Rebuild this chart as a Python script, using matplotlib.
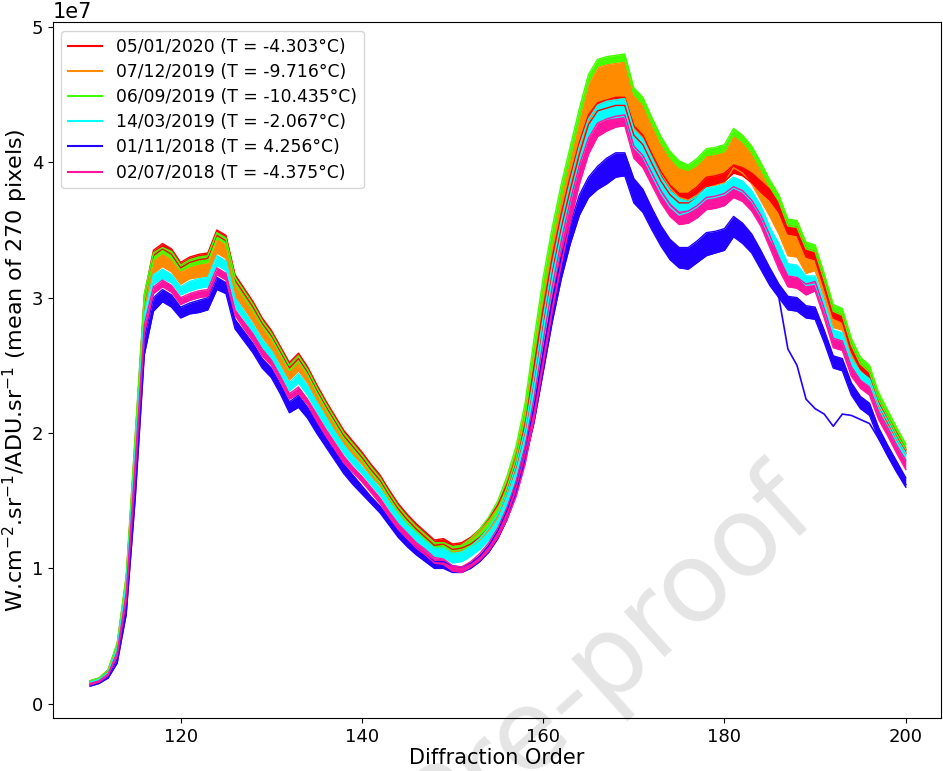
import numpy as np
import matplotlib.pyplot as plt
from matplotlib.lines import Line2D

# diffraction orders on the x axis
orders = np.arange(110, 201)

# legend labels (date, temperature)
labels = ['05/01/2020 (T = -4.303°C)', '07/12/2019 (T = -9.716°C)',
          '06/09/2019 (T = -10.435°C)', '14/03/2019 (T = -2.067°C)',
          '01/11/2018 (T = 4.256°C)', '02/07/2018 (T = -4.375°C)']
colors = ['#ff0000', '#ff8c00', '#44ff00', '#00ffff', '#2200ff', '#ff14a0']

# upper / lower edge of each bundle of curves (units of 1e7)
red_hi = [0.17, 0.19, 0.25, 0.44, 0.93, 1.97,
          3.02, 3.35, 3.40, 3.36, 3.26, 3.30, 3.32, 3.33, 3.50, 3.46,
          3.17, 3.07, 2.97, 2.85, 2.76, 2.64, 2.52, 2.59, 2.49, 2.36,
          2.24, 2.13, 2.02, 1.94, 1.86, 1.77, 1.69, 1.58, 1.48, 1.40,
          1.33, 1.27, 1.21, 1.22, 1.18, 1.19, 1.23, 1.29, 1.37, 1.47,
          1.62, 1.82, 2.10, 2.50, 2.92, 3.30, 3.62, 3.90, 4.15, 4.35,
          4.44, 4.46, 4.48, 4.48, 4.27, 4.20, 4.06, 3.93, 3.83, 3.77,
          3.77, 3.82, 3.89, 3.90, 3.92, 3.98, 3.96, 3.92, 3.86, 3.80,
          3.70, 3.53, 3.52, 3.36, 3.34, 3.13, 2.90, 2.87, 2.65, 2.51,
          2.45, 2.25, 2.12, 2.00, 1.88]
red_lo = [0.16, 0.18, 0.23, 0.41, 0.88, 1.90,
          2.97, 3.31, 3.36, 3.32, 3.22, 3.26, 3.28, 3.29, 3.46, 3.42,
          3.13, 3.03, 2.93, 2.81, 2.72, 2.60, 2.48, 2.55, 2.45, 2.32,
          2.20, 2.09, 1.98, 1.90, 1.82, 1.73, 1.65, 1.54, 1.44, 1.36,
          1.29, 1.23, 1.17, 1.18, 1.14, 1.15, 1.18, 1.23, 1.30, 1.40,
          1.56, 1.75, 2.02, 2.40, 2.82, 3.20, 3.52, 3.80, 4.06, 4.28,
          4.38, 4.40, 4.42, 4.42, 4.20, 4.13, 3.99, 3.86, 3.76, 3.70,
          3.70, 3.75, 3.82, 3.84, 3.86, 3.92, 3.90, 3.85, 3.78, 3.72,
          3.63, 3.47, 3.46, 3.30, 3.28, 3.07, 2.85, 2.82, 2.60, 2.47,
          2.41, 2.21, 2.08, 1.96, 1.85]
orange_hi = [0.16, 0.18, 0.24, 0.43, 0.92, 1.94,
             2.99, 3.28, 3.33, 3.29, 3.19, 3.23, 3.25, 3.26, 3.43, 3.39,
             3.11, 3.01, 2.91, 2.79, 2.70, 2.59, 2.47, 2.54, 2.44, 2.31,
             2.20, 2.09, 1.98, 1.90, 1.82, 1.73, 1.66, 1.55, 1.45, 1.37,
             1.30, 1.24, 1.19, 1.19, 1.16, 1.17, 1.21, 1.27, 1.35, 1.46,
             1.64, 1.85, 2.15, 2.60, 3.05, 3.43, 3.76, 4.04, 4.32, 4.58,
             4.70, 4.72, 4.73, 4.74, 4.50, 4.43, 4.28, 4.14, 4.03, 3.96,
             3.94, 3.98, 4.05, 4.06, 4.08, 4.20, 4.15, 4.07, 3.95, 3.82,
             3.71, 3.53, 3.52, 3.36, 3.34, 3.13, 2.90, 2.87, 2.65, 2.51,
             2.45, 2.25, 2.12, 1.99, 1.88]
orange_lo = [0.15, 0.17, 0.22, 0.40, 0.86, 1.84,
             2.90, 3.18, 3.23, 3.19, 3.10, 3.14, 3.15, 3.16, 3.33, 3.29,
             3.01, 2.92, 2.82, 2.71, 2.62, 2.51, 2.39, 2.46, 2.37, 2.24,
             2.13, 2.02, 1.92, 1.84, 1.77, 1.68, 1.61, 1.50, 1.41, 1.33,
             1.26, 1.21, 1.15, 1.15, 1.12, 1.13, 1.16, 1.21, 1.28, 1.38,
             1.55, 1.74, 2.02, 2.42, 2.85, 3.22, 3.55, 3.83, 4.08, 4.30,
             4.42, 4.45, 4.46, 4.47, 4.25, 4.18, 4.05, 3.92, 3.81, 3.74,
             3.72, 3.76, 3.82, 3.83, 3.85, 3.96, 3.92, 3.84, 3.72, 3.60,
             3.47, 3.31, 3.30, 3.18, 3.20, 3.00, 2.78, 2.76, 2.55, 2.46,
             2.40, 2.20, 2.07, 1.95, 1.85]
green_hi = [0.17, 0.19, 0.25, 0.45, 0.95, 2.00,
            3.03, 3.33, 3.37, 3.34, 3.24, 3.28, 3.30, 3.31, 3.48, 3.44,
            3.15, 3.05, 2.95, 2.83, 2.74, 2.62, 2.50, 2.57, 2.47, 2.34,
            2.22, 2.11, 2.00, 1.92, 1.84, 1.75, 1.67, 1.56, 1.46, 1.38,
            1.31, 1.25, 1.19, 1.19, 1.16, 1.17, 1.22, 1.29, 1.38, 1.50,
            1.68, 1.90, 2.22, 2.70, 3.15, 3.52, 3.84, 4.12, 4.40, 4.65,
            4.76, 4.78, 4.79, 4.80, 4.55, 4.48, 4.33, 4.19, 4.08, 4.01,
            3.98, 4.03, 4.10, 4.11, 4.13, 4.25, 4.20, 4.12, 4.00, 3.87,
            3.76, 3.58, 3.57, 3.41, 3.39, 3.18, 2.95, 2.92, 2.70, 2.56,
            2.50, 2.30, 2.17, 2.04, 1.92]
green_lo = [0.16, 0.18, 0.23, 0.42, 0.90, 1.92,
            2.98, 3.28, 3.33, 3.29, 3.20, 3.23, 3.25, 3.26, 3.44, 3.40,
            3.10, 3.00, 2.90, 2.79, 2.70, 2.58, 2.46, 2.53, 2.43, 2.30,
            2.18, 2.07, 1.96, 1.88, 1.80, 1.71, 1.63, 1.52, 1.42, 1.34,
            1.27, 1.21, 1.15, 1.15, 1.11, 1.12, 1.16, 1.22, 1.30, 1.41,
            1.60, 1.81, 2.12, 2.58, 3.03, 3.42, 3.75, 4.04, 4.33, 4.59,
            4.71, 4.73, 4.74, 4.75, 4.50, 4.43, 4.28, 4.14, 4.03, 3.96,
            3.94, 3.98, 4.05, 4.06, 4.08, 4.20, 4.15, 4.07, 3.95, 3.82,
            3.71, 3.53, 3.52, 3.36, 3.34, 3.13, 2.90, 2.87, 2.65, 2.51,
            2.45, 2.25, 2.12, 1.99, 1.88]
cyan_hi = [0.16, 0.18, 0.23, 0.41, 0.88, 1.88,
           2.88, 3.17, 3.21, 3.17, 3.08, 3.12, 3.14, 3.15, 3.31, 3.27,
           3.00, 2.90, 2.80, 2.69, 2.61, 2.49, 2.37, 2.44, 2.35, 2.23,
           2.12, 2.01, 1.91, 1.83, 1.75, 1.67, 1.59, 1.49, 1.40, 1.32,
           1.26, 1.20, 1.15, 1.15, 1.11, 1.12, 1.16, 1.22, 1.30, 1.40,
           1.56, 1.76, 2.03, 2.42, 2.85, 3.24, 3.57, 3.86, 4.12, 4.32,
           4.42, 4.45, 4.46, 4.47, 4.24, 4.17, 4.03, 3.89, 3.79, 3.73,
           3.71, 3.75, 3.81, 3.82, 3.84, 3.89, 3.86, 3.79, 3.68, 3.52,
           3.40, 3.25, 3.24, 3.16, 3.16, 2.97, 2.76, 2.74, 2.55, 2.45,
           2.40, 2.21, 2.09, 1.96, 1.85]
cyan_lo = [0.15, 0.17, 0.22, 0.38, 0.82, 1.78,
           2.82, 3.10, 3.14, 3.11, 3.02, 3.05, 3.07, 3.08, 3.24, 3.20,
           2.93, 2.84, 2.74, 2.63, 2.55, 2.43, 2.31, 2.37, 2.28, 2.16,
           2.05, 1.95, 1.85, 1.77, 1.70, 1.62, 1.54, 1.44, 1.34, 1.27,
           1.20, 1.14, 1.08, 1.08, 1.04, 1.05, 1.09, 1.14, 1.21, 1.30,
           1.45, 1.64, 1.90, 2.25, 2.66, 3.06, 3.41, 3.71, 3.98, 4.20,
           4.30, 4.32, 4.33, 4.34, 4.11, 4.04, 3.90, 3.77, 3.67, 3.61,
           3.63, 3.67, 3.73, 3.74, 3.76, 3.81, 3.78, 3.71, 3.60, 3.44,
           3.32, 3.17, 3.16, 3.09, 3.10, 2.91, 2.70, 2.68, 2.49, 2.40,
           2.35, 2.16, 2.04, 1.91, 1.80]
blue_hi = [0.14, 0.16, 0.20, 0.33, 0.72, 1.65,
           2.70, 3.00, 3.06, 3.02, 2.93, 2.96, 2.98, 3.00, 3.15, 3.11,
           2.84, 2.75, 2.66, 2.55, 2.48, 2.36, 2.23, 2.28, 2.19, 2.08,
           1.97, 1.87, 1.77, 1.69, 1.61, 1.53, 1.46, 1.37, 1.28, 1.21,
           1.15, 1.10, 1.05, 1.05, 1.02, 1.01, 1.04, 1.09, 1.17, 1.28,
           1.43, 1.63, 1.89, 2.20, 2.60, 2.98, 3.30, 3.55, 3.76, 3.89,
           3.97, 4.03, 4.07, 4.07, 3.88, 3.80, 3.66, 3.53, 3.43, 3.37,
           3.37, 3.42, 3.48, 3.49, 3.51, 3.60, 3.55, 3.47, 3.35, 3.22,
           3.10, 3.01, 3.00, 2.94, 2.93, 2.76, 2.57, 2.55, 2.37, 2.27,
           2.22, 2.04, 1.91, 1.79, 1.67]
blue_lo = [0.13, 0.15, 0.19, 0.30, 0.66, 1.52,
           2.58, 2.90, 2.97, 2.93, 2.85, 2.88, 2.89, 2.91, 3.06, 3.03,
           2.77, 2.68, 2.59, 2.48, 2.41, 2.29, 2.15, 2.19, 2.11, 2.00,
           1.90, 1.80, 1.70, 1.62, 1.55, 1.48, 1.41, 1.32, 1.23, 1.16,
           1.10, 1.05, 1.00, 1.00, 0.97, 0.97, 1.00, 1.05, 1.12, 1.22,
           1.36, 1.55, 1.80, 2.08, 2.45, 2.82, 3.14, 3.40, 3.61, 3.74,
           3.80, 3.84, 3.89, 3.90, 3.70, 3.63, 3.50, 3.38, 3.28, 3.22,
           3.21, 3.26, 3.31, 3.33, 3.35, 3.45, 3.40, 3.33, 3.21, 3.09,
           3.00, 2.91, 2.90, 2.85, 2.84, 2.67, 2.48, 2.46, 2.28, 2.18,
           2.13, 1.96, 1.83, 1.71, 1.60]
magenta_hi = [0.15, 0.17, 0.22, 0.38, 0.82, 1.80,
              2.80, 3.08, 3.13, 3.09, 3.00, 3.03, 3.05, 3.06, 3.22, 3.18,
              2.91, 2.82, 2.73, 2.62, 2.54, 2.42, 2.29, 2.34, 2.25, 2.14,
              2.03, 1.93, 1.83, 1.75, 1.68, 1.60, 1.52, 1.42, 1.33, 1.26,
              1.19, 1.14, 1.08, 1.07, 1.02, 1.01, 1.05, 1.11, 1.19, 1.30,
              1.45, 1.64, 1.90, 2.26, 2.68, 3.08, 3.42, 3.72, 3.98, 4.18,
              4.29, 4.32, 4.34, 4.35, 4.12, 4.05, 3.92, 3.79, 3.69, 3.63,
              3.64, 3.68, 3.74, 3.75, 3.77, 3.82, 3.79, 3.72, 3.61, 3.46,
              3.30, 3.16, 3.15, 3.10, 3.12, 2.92, 2.70, 2.68, 2.49, 2.39,
              2.34, 2.16, 2.04, 1.91, 1.80]
magenta_lo = [0.14, 0.16, 0.21, 0.35, 0.76, 1.70,
              2.74, 3.03, 3.08, 3.04, 2.95, 2.98, 3.00, 3.01, 3.17, 3.13,
              2.87, 2.77, 2.68, 2.57, 2.50, 2.38, 2.25, 2.29, 2.21, 2.09,
              1.98, 1.88, 1.78, 1.71, 1.64, 1.56, 1.48, 1.38, 1.29, 1.22,
              1.15, 1.10, 1.04, 1.03, 0.98, 0.97, 1.01, 1.06, 1.13, 1.23,
              1.36, 1.53, 1.77, 2.10, 2.50, 2.90, 3.25, 3.56, 3.84, 4.06,
              4.19, 4.23, 4.26, 4.27, 4.03, 3.96, 3.83, 3.70, 3.60, 3.54,
              3.55, 3.59, 3.65, 3.66, 3.68, 3.74, 3.71, 3.64, 3.53, 3.37,
              3.21, 3.08, 3.07, 3.02, 3.05, 2.85, 2.63, 2.61, 2.42, 2.33,
              2.28, 2.10, 1.98, 1.85, 1.73]

# one 01/11/2018 curve that drops away from its bundle after order 185
odd_orders = np.arange(185, 201)
odd_curve = [3.15, 3.00, 2.62, 2.50, 2.25, 2.18, 2.14, 2.05, 2.14, 2.13,
             2.10, 2.07, 1.96, 1.84, 1.72, 1.62]

fig, ax = plt.subplots(figsize=(9.43, 7.71), dpi=100)
fig.subplots_adjust(left=0.056, right=0.998, bottom=0.069, top=0.971)
ax.set_facecolor('none')  # let the watermark show behind the curves

# drawing order: later bundles cover earlier ones
bands = [(orange_lo, orange_hi, colors[1]),
         (red_lo, red_hi, colors[0]),
         (green_lo, green_hi, colors[2]),
         (cyan_lo, cyan_hi, colors[3]),
         (blue_lo, blue_hi, colors[4]),
         (magenta_lo, magenta_hi, colors[5])]
for lo, hi, c in bands:
    lo = np.array(lo) * 1e7
    hi = np.array(hi) * 1e7
    ax.fill_between(orders, lo, hi, color=c, lw=0)
    ax.plot(orders, hi, color=c, lw=1)
    ax.plot(orders, lo, color=c, lw=1)
    if c == colors[4]:
        ax.plot(odd_orders, np.array(odd_curve) * 1e7, color=c, lw=1.2)

ax.set_xlim(105.9, 203.9)

handles = [Line2D([], [], color=c, lw=1.5) for c in colors]
ax.legend(handles, labels, loc='upper left', fontsize=12.3, labelspacing=0.42)

ax.set_xlabel('Diffraction Order', fontsize=15, labelpad=2)
ax.set_ylabel(r'W.cm$^{-2}$.sr$^{-1}$/ADU.sr$^{-1}$ (mean of 270 pixels)',
              fontsize=16, labelpad=1)
ax.tick_params(labelsize=13)
ax.yaxis.get_offset_text().set_fontsize(15)

# watermark, drawn underneath the axes
fig.text(0.872, 0.325, 'Journal Pre-proof', fontsize=80, color='#e5e5e5',
         rotation=42, ha='right', va='baseline', rotation_mode='anchor', zorder=-1)

fig.savefig('out.png', dpi=100)
